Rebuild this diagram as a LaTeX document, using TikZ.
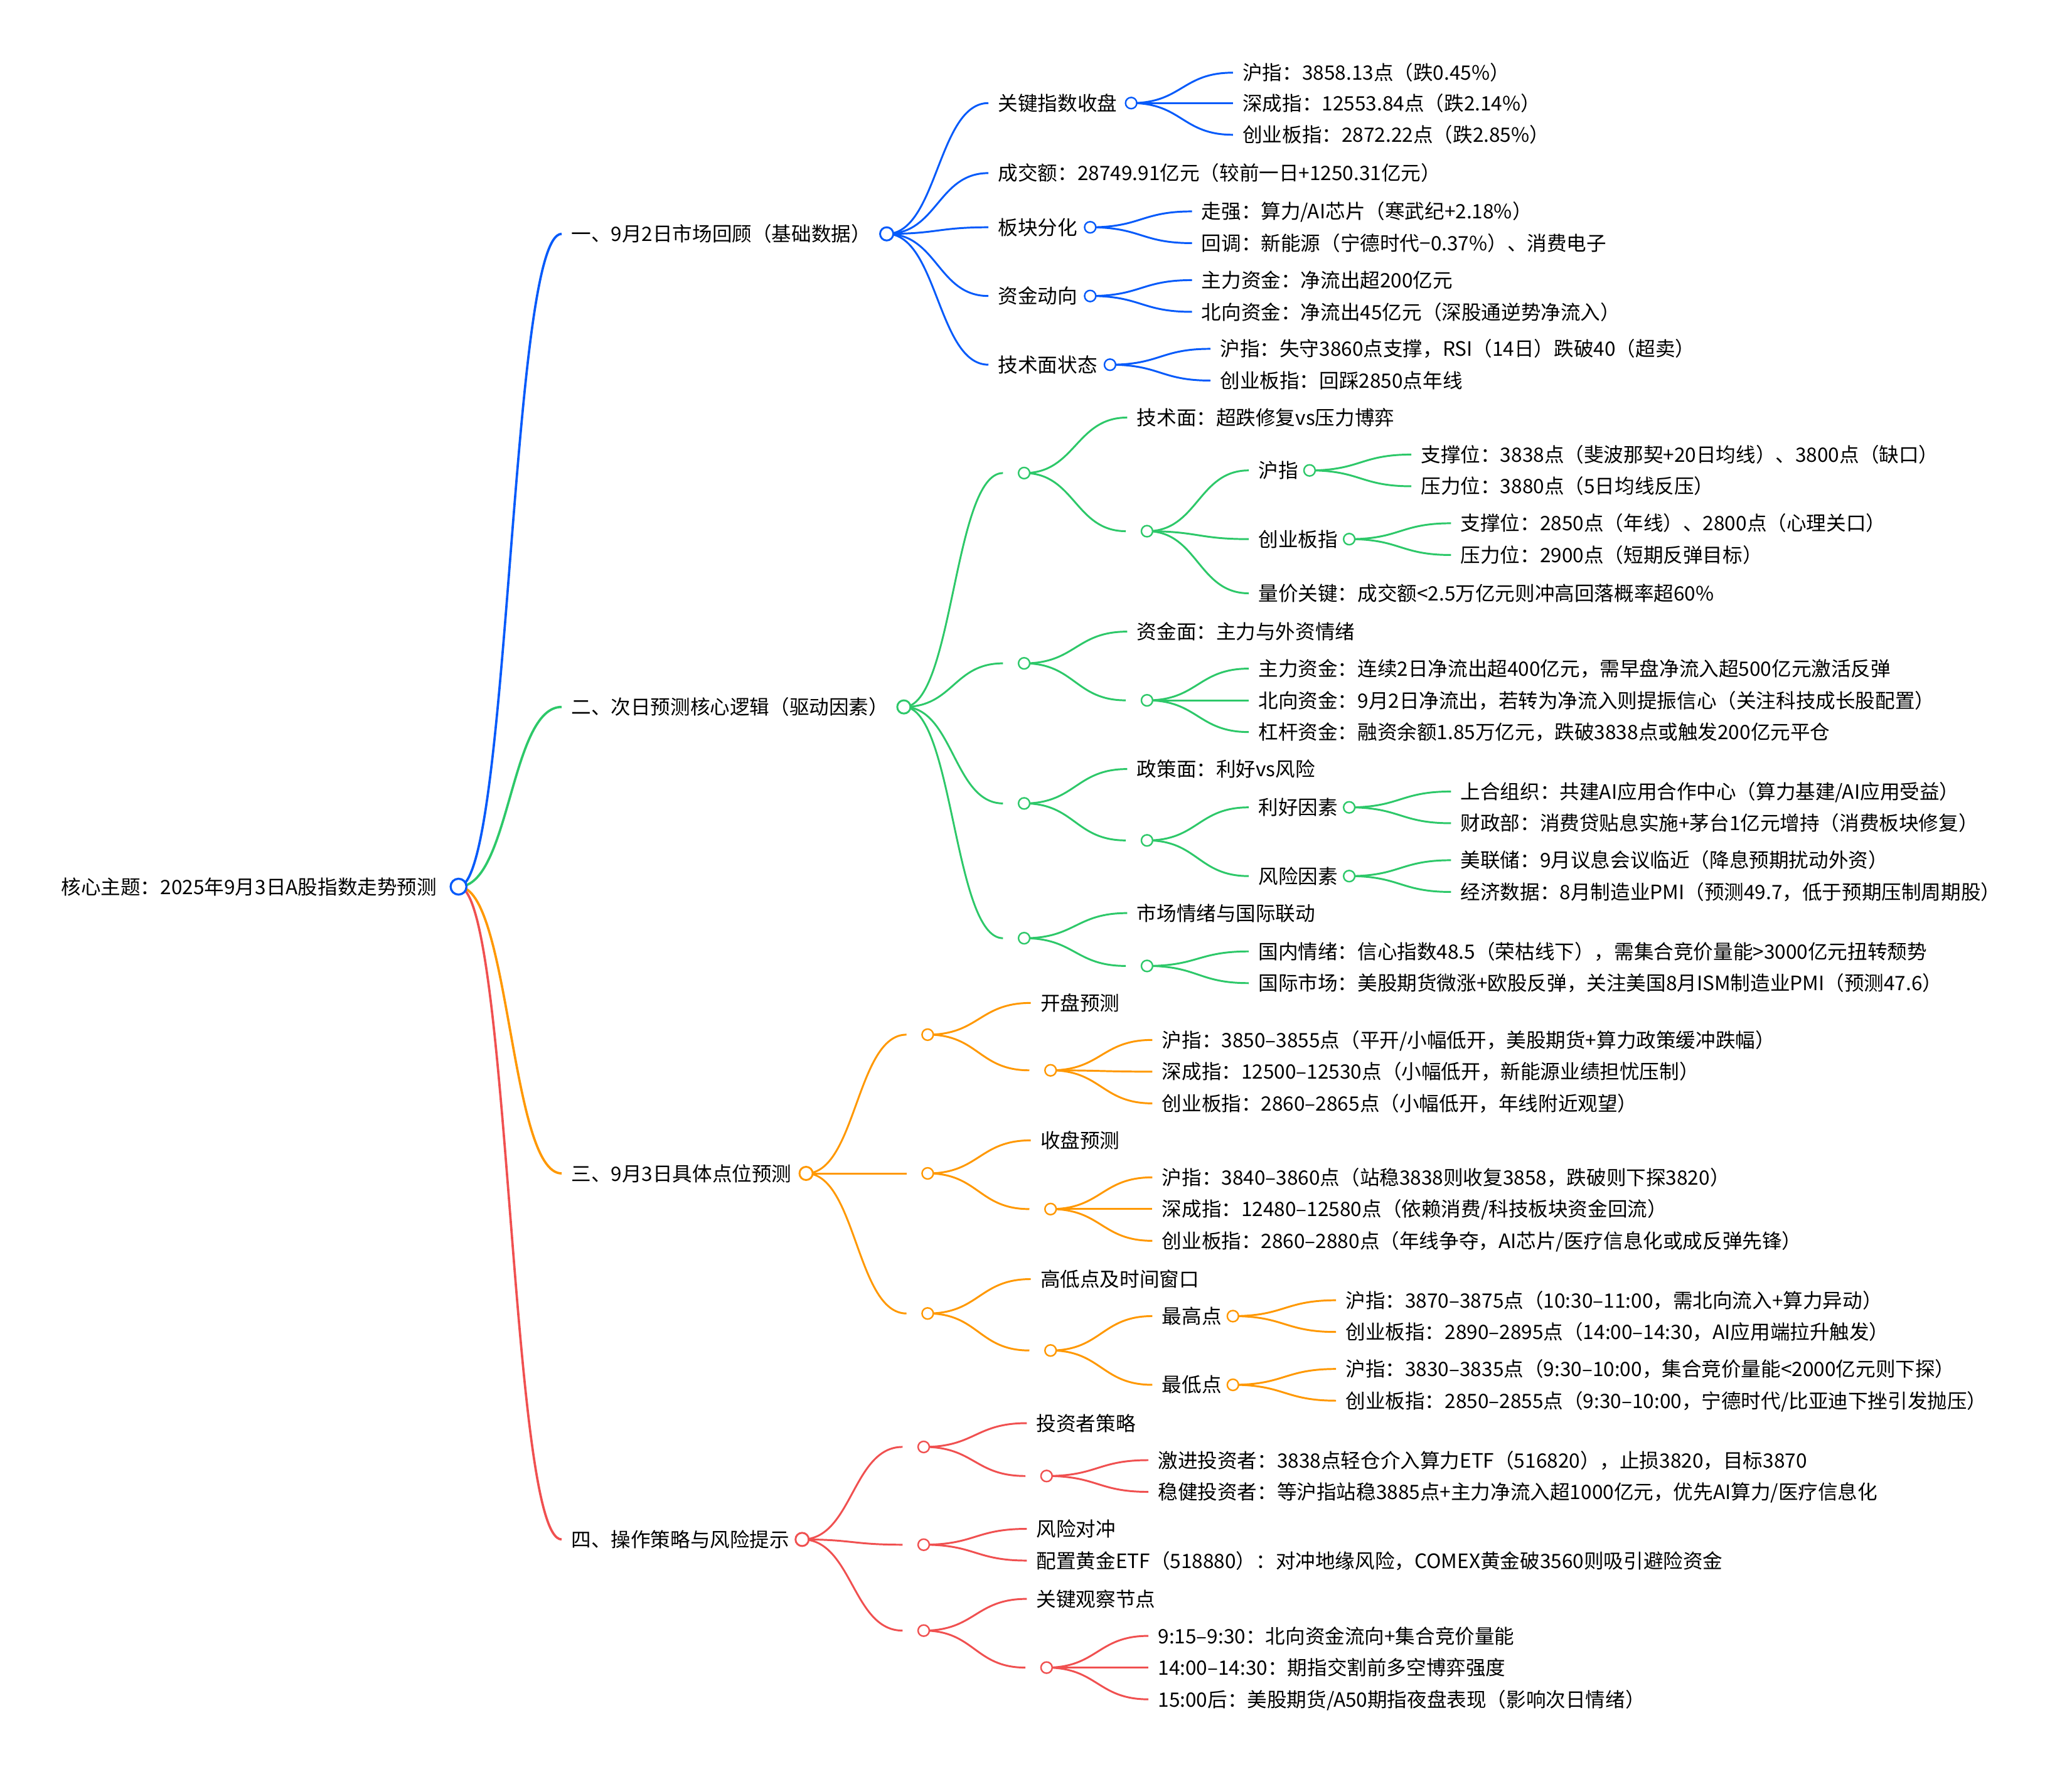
\documentclass[tikz,border=0pt]{standalone}
\usepackage{fontspec}
\setmainfont{Noto Sans CJK SC}
\usetikzlibrary{calc,backgrounds}
\definecolor{cBlue}{RGB}{5,90,250}
\definecolor{cGreen}{RGB}{45,200,105}
\definecolor{cOrange}{RGB}{255,152,0}
\definecolor{cRed}{RGB}{240,80,80}
\tikzset{
  txt/.style={anchor=west, inner xsep=0.14cm, inner ysep=0pt, text height=7.5pt, text depth=1pt,
    font=\fontsize{8.54}{10}\selectfont, text=black},
  dot/.style={circle, draw=#1, fill=white, inner sep=0pt, minimum size=0.17cm, line width=0.65pt},
  dotA/.style={dot=#1, minimum size=0.2cm, line width=0.8pt},
  dotR/.style={dot=#1, minimum size=0.24cm, line width=0.9pt},
  lk/.style={draw=#1, line width=0.8pt},
  lkR/.style={draw=#1, line width=1pt},
}
\newcommand\T[4]{\node[txt] (#1) at (#2,#3) {#4};}
\newcommand\lnk[3]{\path[#1] let \p1=(#2), \p2=(#3), \p3=($(\p1)!0.5!(\p2)$) in (\p1) .. controls (\x3,\y1) and (\x3,\y2) .. (\p2);}
\begin{document}
\begin{tikzpicture}[x=0.02cm,y=-0.02cm]
\useasboundingbox (0,0) rectangle (1568,1341);
% ---------- root ----------
\T{root}{39}{671}{核心主题：2025年9月3日A股指数走势预测}
\node[dotR=cBlue] (p0) at (347,671) {};
% ---------- level 1 ----------
\T{a}{425}{177}{一、9月2日市场回顾（基础数据）}
\node[dotA=cBlue] (pa) at (671,177) {};
\T{b}{425}{535}{二、次日预测核心逻辑（驱动因素）}
\node[dotA=cGreen] (pb) at (684,535) {};
\T{c}{425}{888}{三、9月3日具体点位预测}
\node[dotA=cOrange] (pc) at (610,888) {};
\T{d}{425}{1165}{四、操作策略与风险提示}
\node[dotA=cRed] (pd) at (607,1165) {};
% ---------- A ----------
\T{a1}{748}{78}{关键指数收盘}
\node[dot=cBlue] (pa1) at (856,78) {};
\T{a2}{748}{131}{成交额：28749.91亿元（较前一日+1250.31亿元）}
\T{a3}{748}{172}{板块分化}
\node[dot=cBlue] (pa3) at (825,172) {};
\T{a4}{748}{224}{资金动向}
\node[dot=cBlue] (pa4) at (825,224) {};
\T{a5}{748}{276}{技术面状态}
\node[dot=cBlue] (pa5) at (840,276) {};
\T{a11}{933}{55}{沪指：3858.13点（跌0.45\%）}
\T{a12}{933}{78}{深成指：12553.84点（跌2.14\%）}
\T{a13}{933}{102}{创业板指：2872.22点（跌2.85\%）}
\T{a31}{902}{160}{走强：算力/AI芯片（寒武纪+2.18\%）}
\T{a32}{902}{184}{回调：新能源（宁德时代−0.37\%）、消费电子}
\T{a41}{902}{212}{主力资金：净流出超200亿元}
\T{a42}{902}{236}{北向资金：净流出45亿元（深股通逆势净流入）}
\T{a51}{916}{264}{沪指：失守3860点支撑，RSI（14日）跌破40（超卖）}
\T{a52}{916}{288}{创业板指：回踩2850点年线}
% ---------- B ----------
\coordinate (eb1) at (759,358);
\node[dot=cGreen] (pb1) at (775,358) {};
\T{b11}{853}{316}{技术面：超跌修复vs压力博弈}
\coordinate (eb12) at (852,402);
\node[dot=cGreen] (pb12) at (868,402) {};
\T{b121}{945}{356}{沪指}
\node[dot=cGreen] (pb121) at (991,356) {};
\T{b1211}{1068}{344}{支撑位：3838点（斐波那契+20日均线）、3800点（缺口）}
\T{b1212}{1068}{368}{压力位：3880点（5日均线反压）}
\T{b122}{945}{408}{创业板指}
\node[dot=cGreen] (pb122) at (1021,408) {};
\T{b1221}{1098}{396}{支撑位：2850点（年线）、2800点（心理关口）}
\T{b1222}{1098}{420}{压力位：2900点（短期反弹目标）}
\T{b123}{945}{449}{量价关键：成交额<2.5万亿元则冲高回落概率超60\%}
\coordinate (eb2) at (759,502);
\node[dot=cGreen] (pb2) at (775,502) {};
\T{b21}{853}{478}{资金面：主力与外资情绪}
\coordinate (eb22) at (852,530);
\node[dot=cGreen] (pb22) at (868,530) {};
\T{b221}{945}{506}{主力资金：连续2日净流出超400亿元，需早盘净流入超500亿元激活反弹}
\T{b222}{945}{530}{北向资金：9月2日净流出，若转为净流入则提振信心（关注科技成长股配置）}
\T{b223}{945}{554}{杠杆资金：融资余额1.85万亿元，跌破3838点或触发200亿元平仓}
\coordinate (eb3) at (759,608);
\node[dot=cGreen] (pb3) at (775,608) {};
\T{b31}{853}{582}{政策面：利好vs风险}
\coordinate (eb32) at (852,636);
\node[dot=cGreen] (pb32) at (868,636) {};
\T{b321}{945}{611}{利好因素}
\node[dot=cGreen] (pb321) at (1021,611) {};
\T{b3211}{1098}{599}{上合组织：共建AI应用合作中心（算力基建/AI应用受益）}
\T{b3212}{1098}{623}{财政部：消费贷贴息实施+茅台1亿元增持（消费板块修复）}
\T{b322}{945}{663}{风险因素}
\node[dot=cGreen] (pb322) at (1021,663) {};
\T{b3221}{1098}{651}{美联储：9月议息会议临近（降息预期扰动外资）}
\T{b3222}{1098}{675}{经济数据：8月制造业PMI（预测49.7，低于预期压制周期股）}
\coordinate (eb4) at (759,710);
\node[dot=cGreen] (pb4) at (775,710) {};
\T{b41}{853}{691}{市场情绪与国际联动}
\coordinate (eb42) at (852,731);
\node[dot=cGreen] (pb42) at (868,731) {};
\T{b421}{945}{720}{国内情绪：信心指数48.5（荣枯线下），需集合竞价量能>3000亿元扭转颓势}
\T{b422}{945}{744}{国际市场：美股期货微涨+欧股反弹，关注美国8月ISM制造业PMI（预测47.6）}
% ---------- C ----------
\coordinate (ec1) at (686,783);
\node[dot=cOrange] (pc1) at (702,783) {};
\T{c11}{780}{759}{开盘预测}
\coordinate (ec12) at (779,810);
\node[dot=cOrange] (pc12) at (795,810) {};
\T{c121}{872}{787}{沪指：3850–3855点（平开/小幅低开，美股期货+算力政策缓冲跌幅）}
\T{c122}{872}{811}{深成指：12500–12530点（小幅低开，新能源业绩担忧压制）}
\T{c123}{872}{835}{创业板指：2860–2865点（小幅低开，年线附近观望）}
\coordinate (ec2) at (686,888);
\node[dot=cOrange] (pc2) at (702,888) {};
\T{c21}{780}{863}{收盘预测}
\coordinate (ec22) at (779,915);
\node[dot=cOrange] (pc22) at (795,915) {};
\T{c221}{872}{891}{沪指：3840–3860点（站稳3838则收复3858，跌破则下探3820）}
\T{c222}{872}{915}{深成指：12480–12580点（依赖消费/科技板块资金回流）}
\T{c223}{872}{939}{创业板指：2860–2880点（年线争夺，AI芯片/医疗信息化或成反弹先锋）}
\coordinate (ec3) at (686,994);
\node[dot=cOrange] (pc3) at (702,994) {};
\T{c31}{780}{968}{高低点及时间窗口}
\coordinate (ec32) at (779,1022);
\node[dot=cOrange] (pc32) at (795,1022) {};
\T{c321}{872}{996}{最高点}
\node[dot=cOrange] (pc321) at (933,996) {};
\T{c3211}{1011}{984}{沪指：3870–3875点（10:30–11:00，需北向流入+算力异动）}
\T{c3212}{1011}{1008}{创业板指：2890–2895点（14:00–14:30，AI应用端拉升触发）}
\T{c322}{872}{1048}{最低点}
\node[dot=cOrange] (pc322) at (933,1048) {};
\T{c3221}{1011}{1036}{沪指：3830–3835点（9:30–10:00，集合竞价量能<2000亿元则下探）}
\T{c3222}{1011}{1060}{创业板指：2850–2855点（9:30–10:00，宁德时代/比亚迪下挫引发抛压）}
% ---------- D ----------
\coordinate (ed1) at (683,1095);
\node[dot=cRed] (pd1) at (699,1095) {};
\T{d11}{777}{1077}{投资者策略}
\coordinate (ed12) at (776,1117);
\node[dot=cRed] (pd12) at (792,1117) {};
\T{d121}{869}{1105}{激进投资者：3838点轻仓介入算力ETF（516820），止损3820，目标3870}
\T{d122}{869}{1129}{稳健投资者：等沪指站稳3885点+主力净流入超1000亿元，优先AI算力/医疗信息化}
\coordinate (ed2) at (683,1169);
\node[dot=cRed] (pd2) at (699,1169) {};
\T{d21}{777}{1157}{风险对冲}
\T{d22}{777}{1181}{配置黄金ETF（518880）：对冲地缘风险，COMEX黄金破3560则吸引避险资金}
\coordinate (ed3) at (683,1234);
\node[dot=cRed] (pd3) at (699,1234) {};
\T{d31}{777}{1210}{关键观察节点}
\coordinate (ed32) at (776,1262);
\node[dot=cRed] (pd32) at (792,1262) {};
\T{d321}{869}{1238}{9:15–9:30：北向资金流向+集合竞价量能}
\T{d322}{869}{1262}{14:00–14:30：期指交割前多空博弈强度}
\T{d323}{869}{1286}{15:00后：美股期货/A50期指夜盘表现（影响次日情绪）}
% ---------- connectors ----------
\begin{pgfonlayer}{background}
\fill[white] (0,0) rectangle (1568,1341);
\lnk{lkR=cBlue}{p0.center}{a.west}
\lnk{lkR=cGreen}{p0.center}{b.west}
\lnk{lkR=cOrange}{p0.center}{c.west}
\lnk{lkR=cRed}{p0.center}{d.west}
% A
\foreach \nm in {a1,a2,a3,a4,a5} {\lnk{lk=cBlue}{pa.center}{\nm.west}}
\foreach \nm in {a11,a12,a13} {\lnk{lk=cBlue}{pa1.center}{\nm.west}}
\foreach \nm in {a31,a32} {\lnk{lk=cBlue}{pa3.center}{\nm.west}}
\foreach \nm in {a41,a42} {\lnk{lk=cBlue}{pa4.center}{\nm.west}}
\foreach \nm in {a51,a52} {\lnk{lk=cBlue}{pa5.center}{\nm.west}}
% B
\foreach \nm in {eb1,eb2,eb3,eb4} {\lnk{lk=cGreen}{pb.center}{\nm}}
\lnk{lk=cGreen}{pb1.center}{b11.west}
\lnk{lk=cGreen}{pb1.center}{eb12}
\foreach \nm in {b121,b122,b123} {\lnk{lk=cGreen}{pb12.center}{\nm.west}}
\foreach \nm in {b1211,b1212} {\lnk{lk=cGreen}{pb121.center}{\nm.west}}
\foreach \nm in {b1221,b1222} {\lnk{lk=cGreen}{pb122.center}{\nm.west}}
\lnk{lk=cGreen}{pb2.center}{b21.west}
\lnk{lk=cGreen}{pb2.center}{eb22}
\foreach \nm in {b221,b222,b223} {\lnk{lk=cGreen}{pb22.center}{\nm.west}}
\lnk{lk=cGreen}{pb3.center}{b31.west}
\lnk{lk=cGreen}{pb3.center}{eb32}
\foreach \nm in {b321,b322} {\lnk{lk=cGreen}{pb32.center}{\nm.west}}
\foreach \nm in {b3211,b3212} {\lnk{lk=cGreen}{pb321.center}{\nm.west}}
\foreach \nm in {b3221,b3222} {\lnk{lk=cGreen}{pb322.center}{\nm.west}}
\lnk{lk=cGreen}{pb4.center}{b41.west}
\lnk{lk=cGreen}{pb4.center}{eb42}
\foreach \nm in {b421,b422} {\lnk{lk=cGreen}{pb42.center}{\nm.west}}
% C
\foreach \nm in {ec1,ec2,ec3} {\lnk{lk=cOrange}{pc.center}{\nm}}
\lnk{lk=cOrange}{pc1.center}{c11.west}
\lnk{lk=cOrange}{pc1.center}{ec12}
\foreach \nm in {c121,c122,c123} {\lnk{lk=cOrange}{pc12.center}{\nm.west}}
\lnk{lk=cOrange}{pc2.center}{c21.west}
\lnk{lk=cOrange}{pc2.center}{ec22}
\foreach \nm in {c221,c222,c223} {\lnk{lk=cOrange}{pc22.center}{\nm.west}}
\lnk{lk=cOrange}{pc3.center}{c31.west}
\lnk{lk=cOrange}{pc3.center}{ec32}
\foreach \nm in {c321,c322} {\lnk{lk=cOrange}{pc32.center}{\nm.west}}
\foreach \nm in {c3211,c3212} {\lnk{lk=cOrange}{pc321.center}{\nm.west}}
\foreach \nm in {c3221,c3222} {\lnk{lk=cOrange}{pc322.center}{\nm.west}}
% D
\foreach \nm in {ed1,ed2,ed3} {\lnk{lk=cRed}{pd.center}{\nm}}
\lnk{lk=cRed}{pd1.center}{d11.west}
\lnk{lk=cRed}{pd1.center}{ed12}
\foreach \nm in {d121,d122} {\lnk{lk=cRed}{pd12.center}{\nm.west}}
\lnk{lk=cRed}{pd2.center}{d21.west}
\lnk{lk=cRed}{pd2.center}{d22.west}
\lnk{lk=cRed}{pd3.center}{d31.west}
\lnk{lk=cRed}{pd3.center}{ed32}
\foreach \nm in {d321,d322,d323} {\lnk{lk=cRed}{pd32.center}{\nm.west}}
\end{pgfonlayer}
\end{tikzpicture}
\end{document}
